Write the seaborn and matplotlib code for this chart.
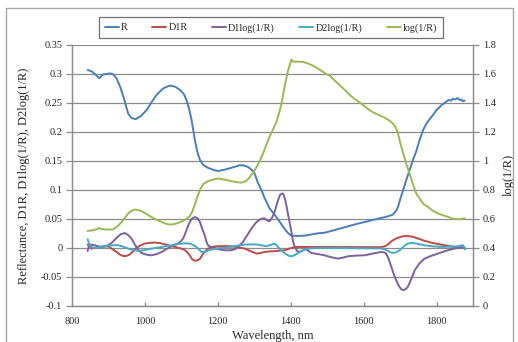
import matplotlib
matplotlib.use("Agg")
import matplotlib.pyplot as plt
import seaborn as sns
from matplotlib.patches import Rectangle
from matplotlib.lines import Line2D

# ---- spectra (left axis unless noted) ----
wl_R = [843, 855, 866, 875, 884, 895, 905, 914, 922, 932, 941, 948, 954, 963, 975, 990,
        1005, 1018, 1032, 1050, 1068, 1083, 1096, 1107, 1114, 1121, 1128, 1137, 1144, 1151,
        1160, 1173, 1190, 1201, 1220, 1237, 1260, 1272, 1283, 1292, 1301, 1310, 1320, 1329,
        1342, 1356, 1365, 1374, 1384, 1393, 1402, 1411, 1420, 1440, 1457, 1475, 1493, 1511,
        1534, 1557, 1580, 1603, 1625, 1648, 1665, 1680, 1689, 1694, 1700, 1708, 1717, 1726,
        1735, 1744, 1753, 1763, 1772, 1781, 1790, 1799, 1806, 1813, 1820, 1826, 1833, 1840,
        1845, 1851, 1858, 1863, 1867, 1872, 1877]
R = [0.307, 0.304, 0.298, 0.2925, 0.299, 0.300, 0.301, 0.299, 0.2925, 0.278, 0.261, 0.245,
     0.232, 0.224, 0.222, 0.228, 0.238, 0.251, 0.264, 0.275, 0.280, 0.278, 0.2725, 0.265,
     0.255, 0.240, 0.2206, 0.186, 0.165, 0.1515, 0.143, 0.138, 0.134, 0.1325, 0.135, 0.138,
     0.1424, 0.142, 0.1395, 0.135, 0.128, 0.112, 0.099, 0.085, 0.068, 0.057, 0.049, 0.041,
     0.032, 0.025, 0.021, 0.0205, 0.0204, 0.021, 0.023, 0.025, 0.026, 0.029, 0.033, 0.037,
     0.041, 0.0445, 0.048, 0.0514, 0.054, 0.057, 0.064, 0.070, 0.083, 0.099, 0.117, 0.134,
     0.151, 0.166, 0.185, 0.203, 0.214, 0.222, 0.229, 0.237, 0.241, 0.246, 0.249, 0.252,
     0.255, 0.254, 0.2575, 0.256, 0.2585, 0.255, 0.256, 0.253, 0.254]

wl_D1R = [843, 849, 854, 863, 872, 885, 899, 910, 922, 932, 943, 952, 959, 968, 977, 988,
          1000, 1014, 1027, 1041, 1055, 1068, 1082, 1095, 1105, 1114, 1123, 1130, 1137, 1145,
          1151, 1158, 1164, 1173, 1187, 1201, 1220, 1237, 1255, 1274, 1290, 1306, 1318, 1329,
          1343, 1356, 1370, 1384, 1398, 1411, 1447, 1493, 1550, 1600, 1648, 1660, 1667, 1678,
          1689, 1700, 1710, 1721, 1735, 1749, 1767, 1785, 1803, 1822, 1835, 1849, 1863, 1877]
D1R = [0.0055, 0.002, -0.0015, 0.0, 0.0015, 0.002, 0.0025, -0.002, -0.0072, -0.012, -0.0147,
       -0.0135, -0.0112, -0.006, 0.0, 0.004, 0.0073, 0.0085, 0.009, 0.008, 0.006, 0.0035,
       0.0014, -0.0005, -0.0026, -0.006, -0.013, -0.020, -0.0225, -0.0215, -0.019, -0.012,
       -0.007, -0.0014, 0.002, 0.0026, 0.003, 0.0026, 0.001, -0.0014, -0.006, -0.010, -0.009,
       -0.0072, -0.0062, -0.006, -0.005, -0.0043, -0.001, 0.0014, 0.0014, 0.0014, 0.0012,
       0.0012, 0.001, 0.003, 0.006, 0.012, 0.016, 0.0185, 0.020, 0.0204, 0.019, 0.016, 0.012,
       0.009, 0.0065, 0.0043, 0.0028, 0.0014, 0.0005, -0.0003]

wl_D1L = [843, 846, 849, 856, 863, 872, 881, 890, 899, 910, 922, 933, 945, 954, 963, 972,
          982, 991, 1000, 1009, 1018, 1032, 1046, 1060, 1073, 1082, 1091, 1098, 1105, 1112,
          1119, 1128, 1137, 1144, 1151, 1157, 1164, 1169, 1173, 1182, 1192, 1205, 1219, 1233,
          1247, 1258, 1269, 1280, 1292, 1304, 1315, 1322, 1329, 1336, 1342, 1349, 1356, 1363,
          1370, 1375, 1379, 1384, 1388, 1395, 1402, 1406, 1411, 1418, 1425, 1432, 1438, 1443,
          1450, 1457, 1466, 1480, 1493, 1502, 1516, 1530, 1543, 1557, 1580, 1603, 1625, 1648,
          1656, 1662, 1669, 1676, 1683, 1689, 1696, 1702, 1708, 1714, 1721, 1730, 1740, 1753,
          1767, 1785, 1804, 1822, 1840, 1855, 1868, 1877]
D1logR = [-0.0055, 0.002, 0.0055, 0.005, 0.0043, 0.0025, 0.0014, 0.0025, 0.0043, 0.009,
          0.017, 0.023, 0.0255, 0.022, 0.016, 0.006, -0.0043, -0.009, -0.0112, -0.0125,
          -0.013, -0.011, -0.0072, -0.002, 0.0026, 0.005, 0.0072, 0.011, 0.016, 0.027, 0.0388,
          0.050, 0.053, 0.051, 0.0445, 0.033, 0.0216, 0.010, 0.0043, 0.001, -0.0003, -0.003,
          -0.0043, -0.0045, -0.0026, 0.003, 0.010, 0.021, 0.033, 0.043, 0.0487, 0.0505, 0.0504,
          0.047, 0.0457, 0.052, 0.062, 0.078, 0.0906, 0.0935, 0.0935, 0.085, 0.073, 0.050,
          0.027, 0.012, 0.0014, -0.006, -0.007, -0.005, -0.003, -0.003, -0.006, -0.009, -0.010,
          -0.0115, -0.013, -0.0147, -0.017, -0.0187, -0.017, -0.0147, -0.0135, -0.013, -0.010,
          -0.0072, -0.008, -0.010, -0.020, -0.033, -0.046, -0.056, -0.065, -0.071, -0.073,
          -0.072, -0.0677, -0.055, -0.039, -0.027, -0.0187, -0.014, -0.010, -0.006, -0.003,
          -0.0005, 0.0014, -0.0003]

wl_D2L = [843, 846, 849, 856, 863, 876, 890, 905, 918, 927, 940, 954, 968, 982, 995, 1009,
          1027, 1046, 1060, 1073, 1086, 1100, 1112, 1123, 1135, 1146, 1155, 1164, 1173, 1183,
          1200, 1228, 1250, 1274, 1292, 1310, 1322, 1333, 1345, 1356, 1363, 1374, 1385, 1395,
          1402, 1410, 1425, 1436, 1447, 1470, 1493, 1550, 1600, 1648, 1658, 1667, 1675, 1680,
          1688, 1699, 1708, 1717, 1726, 1735, 1750, 1767, 1790, 1813, 1835, 1858, 1868, 1872,
          1876, 1878]
D2logR = [0.0147, 0.009, 0.0043, 0.0005, -0.0003, 0.001, 0.0026, 0.0038, 0.0045, 0.0043,
          0.002, -0.0014, -0.004, -0.0055, -0.0045, -0.0026, -0.0005, 0.0014, 0.003, 0.0043,
          0.006, 0.0072, 0.0076, 0.0072, 0.004, -0.0014, -0.0072, -0.0072, -0.005, -0.003,
          -0.001, 0.001, 0.003, 0.0055, 0.0058, 0.0055, 0.004, 0.0026, 0.005, 0.0072, 0.003,
          -0.0043, -0.010, -0.014, -0.0147, -0.013, -0.0072, -0.004, -0.0014, -0.0005, -0.0003,
          -0.0005, -0.0008, -0.001, -0.003, -0.0055, -0.008, -0.009, -0.008, -0.0043, 0.001,
          0.006, 0.0078, 0.0083, 0.0065, 0.0043, 0.0025, 0.0014, 0.0018, 0.0026, 0.004, 0.0043,
          0.001, -0.003]

# log(1/R) on the secondary axis
wl_L = [843, 855, 866, 874, 880, 890, 905, 913, 925, 936, 945, 954, 963, 973, 982, 991,
        1005, 1018, 1032, 1046, 1057, 1068, 1080, 1091, 1105, 1114, 1123, 1130, 1137, 1145,
        1151, 1160, 1173, 1188, 1201, 1220, 1237, 1252, 1265, 1278, 1288, 1297, 1306, 1315,
        1324, 1333, 1342, 1352, 1361, 1368, 1374, 1384, 1393, 1402, 1405, 1408, 1420, 1434,
        1447, 1461, 1475, 1488, 1497, 1507, 1520, 1534, 1548, 1562, 1575, 1589, 1602, 1616,
        1625, 1635, 1647, 1658, 1670, 1680, 1688, 1694, 1703, 1710, 1718, 1726, 1735, 1744,
        1756, 1765, 1776, 1790, 1804, 1818, 1831, 1845, 1854, 1865, 1877]
logR = [0.516, 0.520, 0.527, 0.536, 0.530, 0.527, 0.525, 0.528, 0.548, 0.578, 0.605, 0.636,
        0.655, 0.664, 0.660, 0.652, 0.632, 0.612, 0.594, 0.578, 0.566, 0.560, 0.563, 0.572,
        0.585, 0.600, 0.618, 0.650, 0.700, 0.760, 0.800, 0.840, 0.860, 0.872, 0.878, 0.870,
        0.860, 0.853, 0.850, 0.862, 0.888, 0.920, 0.956, 1.000, 1.050, 1.110, 1.167, 1.220,
        1.270, 1.330, 1.386, 1.524, 1.627, 1.700, 1.690, 1.685, 1.685, 1.683, 1.673, 1.657,
        1.637, 1.615, 1.600, 1.588, 1.556, 1.524, 1.490, 1.455, 1.428, 1.404, 1.378, 1.351,
        1.337, 1.323, 1.310, 1.298, 1.280, 1.259, 1.230, 1.190, 1.100, 1.040, 0.970, 0.914,
        0.840, 0.776, 0.730, 0.700, 0.683, 0.655, 0.638, 0.624, 0.614, 0.600, 0.598, 0.597,
        0.603]

x_ticks = [800, 1000, 1200, 1400, 1600, 1800]
left_ticks = [-0.1, -0.05, 0, 0.05, 0.1, 0.15, 0.2, 0.25, 0.3, 0.35]
left_ticklabels = ["-0.1", "-0.05", "0", "0.05", "0.1", "0.15", "0.2", "0.25", "0.3", "0.35"]
right_ticks = [0, 0.2, 0.4, 0.6, 0.8, 1.0, 1.2, 1.4, 1.6, 1.8]
right_ticklabels = ["0", "0.2", "0.4", "0.6", "0.8", "1", "1.2", "1.4", "1.6", "1.8"]

sns.set_theme(style="white")
plt.rcParams['font.family'] = ['Liberation Serif', 'DejaVu Serif']

C_R, C_D1R, C_D1L, C_D2L, C_L = "#4a7ebb", "#be4b48", "#7d60a0", "#46aac5", "#98b954"
GRID = "#8c8c8c"
LW = 1.4
W, H = 518, 342

fig = plt.figure(figsize=(W / 100, H / 100), dpi=100)
fig.patch.set_facecolor("white")
fig.add_artist(Rectangle((6 / W, -0.1), (513 - 6) / W, 1.1 - 8 / H,
                         transform=fig.transFigure, fill=False,
                         edgecolor="#a6a6a6", linewidth=1.0))

ax = fig.add_axes([72 / W, 1 - 305.7 / H, (473 - 72) / W, (305.7 - 45) / H])
ax2 = ax.twinx()

sns.lineplot(x=wl_R, y=R, ax=ax, color=C_R, linewidth=LW, estimator=None, sort=False)
sns.lineplot(x=wl_D1R, y=D1R, ax=ax, color=C_D1R, linewidth=LW, estimator=None, sort=False)
sns.lineplot(x=wl_D1L, y=D1logR, ax=ax, color=C_D1L, linewidth=LW, estimator=None, sort=False)
sns.lineplot(x=wl_D2L, y=D2logR, ax=ax, color=C_D2L, linewidth=LW, estimator=None, sort=False)
sns.lineplot(x=wl_L, y=logR, ax=ax2, color=C_L, linewidth=LW, estimator=None, sort=False)

ax.set_xlim(800, 1900)
ax.set_ylim(-0.1, 0.35)
ax2.set_ylim(0, 1.8)
ax.set_xticks(x_ticks)
ax.set_xticklabels([str(t) for t in x_ticks])
ax.set_yticks(left_ticks)
ax.set_yticklabels(left_ticklabels)
ax2.set_yticks(right_ticks)
ax2.set_yticklabels(right_ticklabels)

ax.yaxis.grid(True, color=GRID, linewidth=0.9)
ax.xaxis.grid(False)
ax2.grid(False)
for a in (ax, ax2):
    for s in a.spines.values():
        s.set_color(GRID)
        s.set_linewidth(0.9)
    a.spines["top"].set_visible(False)
ax.tick_params(axis="y", direction="out", length=4, width=0.9, color=GRID,
               labelsize=7.4, pad=3, left=True)
ax.tick_params(axis="x", direction="in", length=3, width=0.9, color=GRID,
               labelsize=7.4, pad=8, bottom=True)
ax2.tick_params(axis="y", direction="out", length=4, width=0.9, color=GRID,
                labelsize=7.4, pad=3, right=True)

ax.set_xlabel("Wavelength, nm", fontsize=9, labelpad=3)
ax.set_ylabel("Reflectance, D1R, D1log(1/R), D2log(1/R)", fontsize=9, labelpad=8)
ax2.set_ylabel("log(1/R)", fontsize=9, labelpad=5, rotation=90)

handles = [Line2D([], [], color=c, linewidth=LW) for c in (C_R, C_D1R, C_D1L, C_D2L, C_L)]
labels = ["R", "D1R", "D1log(1/R)", "D2log(1/R)", "log(1/R)"]
leg = fig.legend(handles, labels, loc="center", bbox_to_anchor=(271 / W, 1 - 27.8 / H),
                 ncol=5, frameon=True, fancybox=False, fontsize=7.3,
                 handlelength=1.4, handletextpad=0.2, columnspacing=2.4,
                 borderpad=0.55)
leg.get_frame().set_edgecolor("#4d4d4d")
leg.get_frame().set_linewidth(0.9)

fig.savefig("out.png", dpi=100)
